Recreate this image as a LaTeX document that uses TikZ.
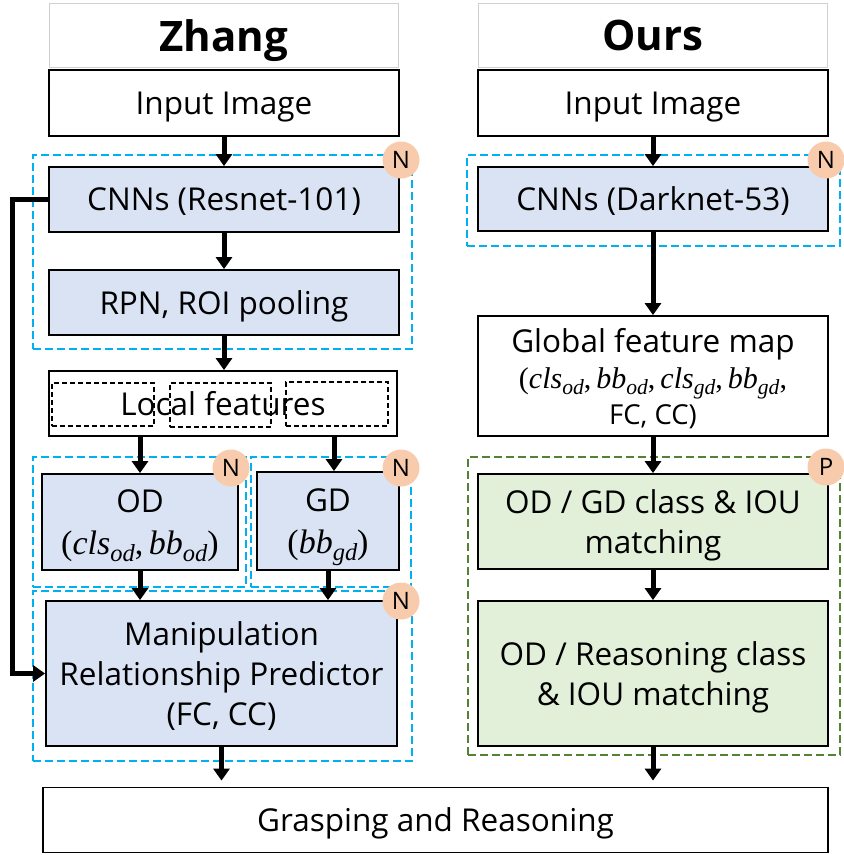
\documentclass[tikz,border=0pt]{standalone}
\usepackage{fontspec}
\setmainfont{Open Sans}
\newfontfamily\mfont{Liberation Serif}
\usetikzlibrary{arrows.meta}
\definecolor{bluefill}{HTML}{DAE3F3}
\definecolor{greenfill}{HTML}{E2F0D9}
\definecolor{peach}{HTML}{F8CBAD}
\definecolor{bluedash}{HTML}{00B0F0}
\definecolor{greendash}{HTML}{548235}
\definecolor{titlegray}{HTML}{D0D0D0}
\newcommand{\mv}[2]{{\mfont\itshape #1\raisebox{-0.22em}{\scalebox{0.72}{#2}}}}
\newcommand{\mt}[1]{{\mfont #1}}
\begin{document}
\begin{tikzpicture}[x=1pt,y=-1pt,
  txt/.style={font=\fontsize{31.5}{40}\selectfont},
  box/.style={draw=black,line width=1.8pt,fill=white,align=center,inner sep=0pt,text depth=0pt,txt},
  bbox/.style={box,fill=bluefill},
  gbox/.style={box,fill=greenfill},
  titlebox/.style={draw=titlegray,line width=1pt,fill=white,inner sep=0pt,text depth=0pt,font=\fontsize{42}{50}\selectfont\bfseries},
  dbox/.style={draw=bluedash,line width=2.4pt,dash pattern=on 8pt off 4pt,inner sep=0pt},
  gdbox/.style={draw=greendash,line width=2pt,dash pattern=on 8pt off 4pt,inner sep=0pt},
  ldbox/.style={draw=black,line width=1.1pt,dash pattern=on 5pt off 3pt,inner sep=0pt},
  badge/.style={circle,fill=peach,minimum size=37pt,inner sep=0pt,font=\fontsize{24}{24}\selectfont},
  arr/.style={line width=5pt,-{Triangle[width=16pt,length=12pt]}},
  ln/.style={line width=5pt}
]
\useasboundingbox (0,0) rectangle (844,855);
% titles
\node[titlebox,minimum width=349pt,minimum height=64pt] (t1) at (223.5,35.5) {Zhang};
\node[titlebox,minimum width=349pt,minimum height=64pt] (t2) at (652.5,35.5) {Ours};
% dashed groups
\node[dbox,minimum width=379pt,minimum height=194pt] (g1) at (222.5,252) {};
\node[dbox,minimum width=213pt,minimum height=130pt] (g2) at (139.5,522) {};
\node[dbox,minimum width=160pt,minimum height=130pt] (g3) at (331,522) {};
\node[dbox,minimum width=379pt,minimum height=170pt] (g4) at (222.5,676) {};
\node[dbox,minimum width=373pt,minimum height=91pt] (g5) at (653.5,200.5) {};
\node[gdbox,minimum width=372pt,minimum height=298pt] (g6) at (654,606) {};
% left column
\node[box,minimum width=350pt,minimum height=66pt] (in1) at (224,103) {Input Image};
\node[bbox,minimum width=350pt,minimum height=65pt] (cnn1) at (224,199.5) {CNNs (Resnet-101)};
\node[bbox,minimum width=350pt,minimum height=65pt] (rpn) at (224,302.5) {RPN, ROI pooling};
\node[box,minimum width=348pt,minimum height=65pt] (lf) at (223,403.5) {Local features};
\node[ldbox,minimum width=102pt,minimum height=43pt] (lf1) at (103,404.5) {};
\node[ldbox,minimum width=101pt,minimum height=44pt] (lf2) at (220.5,405) {};
\node[ldbox,minimum width=102pt,minimum height=44pt] (lf3) at (337,404) {};
\node[bbox,minimum width=196pt,minimum height=96pt] (od) at (140,522) {OD\\[2pt]{\fontsize{34}{40}\selectfont\mt{(}\mv{cls}{od}\mt{,\,}\mv{bb}{od}\mt{)}}};
\node[bbox,minimum width=142pt,minimum height=98pt] (gd) at (328,521) {GD\\[2pt]{\fontsize{34}{40}\selectfont\mt{(}\mv{bb}{gd}\mt{)}}};
\node[bbox,minimum width=351pt,minimum height=145pt] (mrp) at (221.5,673.5) {Manipulation\\Relationship Predictor\\(FC, CC)};
\node[box,minimum width=785pt,minimum height=65pt] (gr) at (435.5,820) {Grasping and Reasoning};
% right column
\node[box,minimum width=350pt,minimum height=66pt] (in2) at (653,103) {Input Image};
\node[bbox,minimum width=350pt,minimum height=64pt] (cnn2) at (653,199) {CNNs (Darknet-53)};
\node[box,minimum width=350pt,minimum height=120pt] (gfm) at (653,376) {Global feature map\\[-4pt]{\fontsize{30}{36}\selectfont\mt{(}\mv{cls}{od}\mt{,\,}\mv{bb}{od}\mt{,\,}\mv{cls}{gd}\mt{,\,}\mv{bb}{gd}\mt{,}}\\[-4pt]{\fontsize{27.5}{36}\selectfont FC, CC)}};
\node[gbox,minimum width=350pt,minimum height=95pt] (m1) at (653,521.5) {OD / GD class \& IOU\\matching};
\node[gbox,minimum width=350pt,minimum height=145pt] (m2) at (653,673.5) {OD / Reasoning class\\\& IOU matching};
% connectors
\draw[arr] (in1.south) -- (cnn1.north);
\draw[arr] (cnn1.south) -- (rpn.north);
\draw[arr] (rpn.south) -- (rpn.south |- lf.north);
\draw[arr] (od.north |- lf.south) -- (od.north);
\draw[arr] ([xshift=6pt]gd.north |- lf.south) -- ([xshift=6pt]gd.north);
\draw[arr] (od.south) -- (od.south |- mrp.north);
\draw[arr] (gd.south) -- (gd.south |- mrp.north);
\draw[arr,shorten >=6pt] (mrp.south) -- (mrp.south |- gr.north);
\draw[arr] (cnn1.west) -- ++(-36,0) |- (mrp.west);
\draw[arr] (in2.south) -- (cnn2.north);
\draw[arr] (cnn2.south) -- (gfm.north);
\draw[arr] (gfm.south) -- (m1.north);
\draw[arr] (m1.south) -- (m2.north);
\draw[arr,shorten >=6pt] (m2.south) -- (m2.south |- gr.north);
% badges
\node[badge] (b1) at (401,160) {N};
\node[badge] (b2) at (231,468) {N};
\node[badge] (b3) at (401,468) {N};
\node[badge] (b4) at (401,601) {N};
\node[badge] (b5) at (826,160) {N};
\node[badge] (b6) at (826,467) {P};
\end{tikzpicture}
\end{document}
